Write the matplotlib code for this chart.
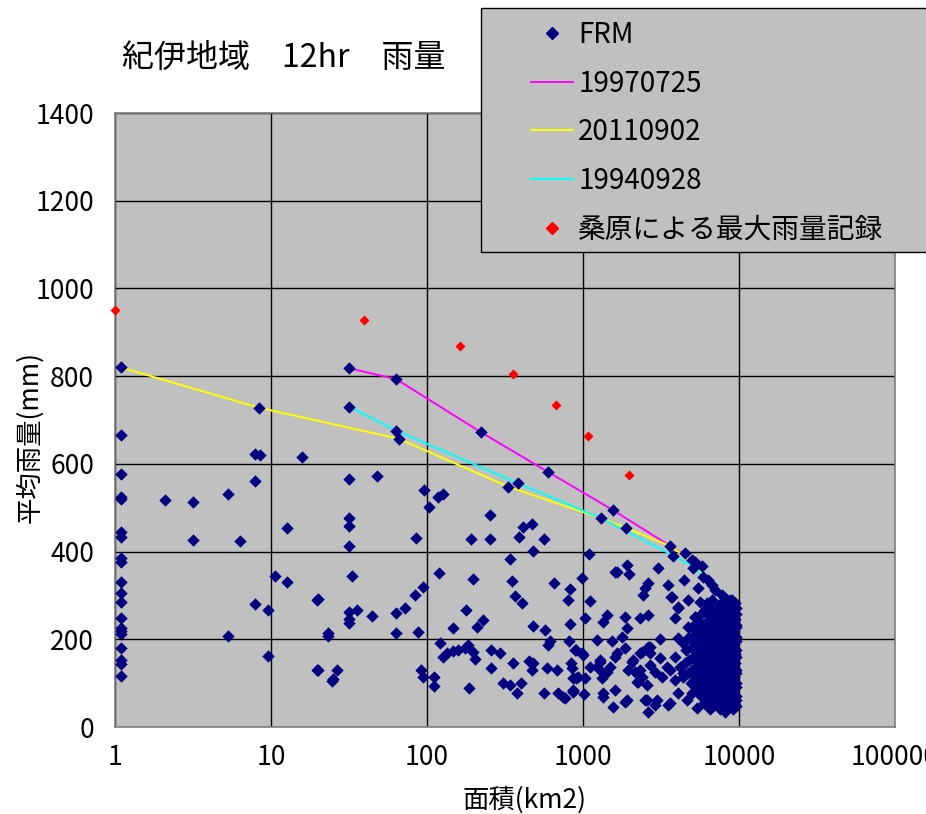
import matplotlib
matplotlib.use("Agg")
import matplotlib.pyplot as plt
from matplotlib.lines import Line2D
from matplotlib.patches import Rectangle

plt.rcParams['font.family'] = ['Noto Sans CJK JP', 'DejaVu Sans']

# ---- data -------------------------------------------------------------
title = "紀伊地域　12hr　雨量"
x_label = "面積(km2)"
y_label = "平均雨量(mm)"
x_ticks = [1, 10, 100, 1000, 10000, 100000]
x_tick_labels = ["1", "10", "100", "1000", "10000", "100000"]
y_ticks = [0, 200, 400, 600, 800, 1000, 1200, 1400]

# FRM results (area km2, mean rainfall mm), grouped by area range
frm_small = [
    (1.09, 820), (1.09, 666), (1.09, 577), (1.09, 524), (1.09, 520), (1.09, 445),
    (1.09, 434), (1.09, 385), (1.09, 377), (1.09, 330), (1.09, 305), (1.09, 286),
    (1.09, 248), (1.09, 225), (1.09, 218), (1.09, 212), (1.09, 179), (1.09, 153),
    (1.09, 144), (1.09, 116),
    (8.4, 728), (7.9, 622), (8.5, 620), (15.9, 615), (7.9, 560), (2.08, 518),
    (3.18, 514), (5.28, 532), (3.18, 427), (6.33, 425), (12.7, 453), (10.6, 344),
    (12.7, 330), (19.6, 290), (7.9, 280), (9.5, 267), (5.3, 207), (9.5, 162),
    (19.6, 131), (20.1, 291), (23.3, 214), (23.3, 207), (20.1, 131), (26.4, 131),
    (24.5, 105), (25, 109),
]
frm_mid = [
    (31.8, 818), (63.6, 793), (31.8, 730), (63.6, 676), (66.2, 657), (222, 672),
    (600, 581), (332, 548), (381, 556), (31.8, 565), (47.8, 572), (96.1, 540),
    (103.5, 502), (118, 525), (127, 531), (253, 483), (31.8, 476), (31.8, 458),
    (31.8, 413), (85.4, 430), (191, 429), (253, 428), (414, 455), (469, 464),
    (389, 434), (565, 428), (476, 402), (340, 383), (32.9, 344), (119, 352),
    (198, 337), (351, 334), (655, 328), (986, 339), (94.3, 320), (83.8, 300),
    (72.3, 272), (63.3, 260), (31.8, 262), (35.4, 267), (31.8, 246), (31.8, 236),
    (44.4, 253), (179, 267), (230, 244), (208, 229), (367, 299), (405, 283),
    (480, 230), (571, 221), (826, 314), (805, 290), (830, 234), (63.6, 214),
    (88, 216), (147, 225), (91, 130), (94.7, 113), (111, 115), (111, 94),
    (121, 192), (127, 160), (134, 168), (147, 174), (159, 176), (175, 179),
    (184, 187), (198, 172), (203, 155), (187, 90), (256, 176), (294, 168),
    (256, 134), (354, 145), (308, 101), (340, 96), (399, 100), (379, 77),
    (453, 151), (480, 145), (469, 130), (591, 134), (678, 130), (600, 187),
    (614, 195), (562, 78), (695, 78), (767, 67), (860, 83), (817, 195),
    (902, 176), (981, 168), (836, 145), (847, 134), (902, 111), (930, 115),
    (866, 80), (889, 176), (866, 112), (866, 84), (744, 68),
]
frm_large = [
    (1097, 394), (1109, 287), (1030, 249), (1005, 164), (1030, 111), (1018, 75),
    (1550, 495), (1304, 476), (1878, 454), (3610, 413), (3793, 391), (4505, 397),
    (1611, 354), (1906, 369), (1644, 354), (1982, 350), (3040, 362), (4440, 335),
    (2623, 328), (2497, 316), (2436, 301), (3524, 324), (3664, 297), (1419, 255),
    (1349, 240), (1858, 251), (1906, 225), (2318, 248), (2623, 255), (4083, 271),
    (3890, 248), (1224, 198), (1527, 195), (1771, 206), (1858, 179), (3118, 200),
    (2318, 168), (2623, 183), (4083, 202), (4395, 191), (1285, 153), (1224, 137),
    (1349, 122), (1490, 137), (1603, 160), (2102, 153), (2318, 130), (1951, 130),
    (2262, 103), (2560, 96), (2687, 168), (3118, 157), (3441, 137), (3890, 160),
    (4180, 137), (4395, 122), (1349, 77), (1556, 46), (1858, 58), (2560, 62),
    (2896, 50), (2623, 35), (3610, 54), (4083, 77), (4620, 62), (1652, 169),
    (2389, 171), (2687, 182), (2061, 148), (1285, 148), (1109, 137), (1425, 125),
    (1324, 112), (2154, 125), (2389, 114), (2219, 103), (2687, 141), (2896, 125),
    (3209, 114), (3610, 130), (3890, 107), (1349, 68), (1603, 84), (1914, 62),
    (2497, 62), (2980, 62), (3524, 50), (3720, 296), (4083, 274),
]
frm_core = [
    (4976, 381), (5224, 377), (5095, 362), (5766, 366), (5875, 342), (6330, 335),
    (6714, 324), (7017, 312), (7780, 301), (8130, 294), (8750, 290), (9430, 283),
    (5485, 317), (4731, 290), (5623, 285), (6240, 283), (6714, 290), (5224, 251),
    (6053, 267), (4731, 229), (5354, 214), (4976, 179), (4976, 122), (5354, 43),
    (8130, 35),
    (7500, 280), (8200, 280), (8800, 278), (9300, 276), (9600, 272),
    (6000, 265), (7000, 265), (7800, 265), (8500, 262), (9200, 264), (9600, 258),
    (5200, 250), (6500, 250), (7300, 250), (8000, 248), (8700, 250), (9400, 246),
    (6000, 235), (6800, 235), (7600, 235), (8300, 235), (9000, 235), (9600, 232),
    (5500, 220), (6300, 220), (7100, 220), (7900, 220), (8600, 220), (9300, 220),
    (4800, 205), (5800, 205), (6700, 205), (7500, 205), (8200, 205), (8900, 205),
    (9600, 205), (5300, 190), (6200, 190), (7000, 190), (7800, 190), (8500, 190),
    (9200, 190), (4600, 175), (5600, 175), (6500, 175), (7300, 175), (8100, 175),
    (8800, 175), (9500, 175), (5100, 160), (6000, 160), (6900, 160), (7700, 160),
    (8400, 160), (9100, 160), (9600, 160), (4500, 145), (5500, 145), (6400, 145),
    (7200, 145), (8000, 145), (8700, 145), (9400, 145), (5000, 130), (5900, 130),
    (6800, 130), (7600, 130), (8300, 130), (9000, 130), (9600, 130), (4400, 115),
    (5400, 115), (6300, 115), (7100, 115), (7900, 115), (8600, 115), (9300, 115),
    (4900, 100), (5800, 100), (6700, 100), (7500, 100), (8200, 100), (8900, 100),
    (9600, 100), (5300, 85), (6200, 85), (7000, 85), (7800, 85), (8500, 85),
    (9200, 85), (5700, 70), (6600, 70), (7400, 70), (8100, 70), (8800, 70),
    (9500, 70), (6000, 55), (7000, 55), (7800, 55), (8600, 55), (9300, 55),
    (6500, 40), (7600, 40), (8400, 40), (9100, 40),
    (8400, 290), (9000, 290), (6600, 272), (7300, 272), (8100, 272),
    (5700, 257), (6900, 257), (7700, 257), (8400, 257), (9000, 257),
    (5500, 242), (6400, 242), (7200, 242), (8000, 242), (8700, 242), (9300, 242),
    (5000, 227), (5900, 227), (6700, 227), (7500, 227), (8200, 227), (8900, 227),
    (9500, 227), (5300, 212), (6100, 212), (6900, 212), (7800, 212), (8500, 212),
    (9200, 212), (5100, 197), (6000, 197), (6800, 197), (7600, 197), (8300, 197),
    (9000, 197), (9500, 197), (5000, 182), (5900, 182), (6800, 182), (7600, 182),
    (8400, 182), (9100, 182), (5400, 167), (6300, 167), (7100, 167), (7900, 167),
    (8700, 167), (9400, 167), (4800, 152), (5800, 152), (6700, 152), (7500, 152),
    (8300, 152), (9000, 152), (5300, 137), (6200, 137), (7000, 137), (7800, 137),
    (8500, 137), (9200, 137), (4700, 122), (5700, 122), (6600, 122), (7400, 122),
    (8200, 122), (8900, 122), (9500, 122), (5200, 107), (6100, 107), (7000, 107),
    (7800, 107), (8500, 107), (9200, 107), (5500, 92), (6500, 92), (7300, 92),
    (8100, 92), (8800, 92), (9500, 92), (5000, 77), (6000, 77), (6900, 77),
    (7700, 77), (8400, 77), (9100, 77), (6300, 62), (7200, 62), (8000, 62),
    (8900, 62), (9500, 62), (6800, 47), (8000, 47), (8800, 47), (9500, 47),
]

# Storm events traced across area
ev_19970725_area = [31.8, 63.6, 222, 600, 1550, 3610, 5200, 7500]
ev_19970725_rain = [818, 793, 672, 581, 495, 413, 377, 306]
ev_20110902_area = [1.09, 8.4, 66.2, 332, 1304, 1878, 3610, 5000, 7300]
ev_20110902_rain = [820, 728, 657, 548, 476, 454, 413, 378, 306]
ev_19940928_area = [31.8, 63.6, 381, 1304, 3793, 5300, 7300]
ev_19940928_rain = [730, 676, 556, 476, 391, 362, 300]

# Maximum recorded rainfall (Kuwabara)
kuwabara_area = [1, 39.5, 163, 356, 671, 1077, 1972]
kuwabara_rain = [951, 928, 869, 805, 734, 663, 575]

# ---- figure -------------------------------------------------------------
W, H = 926, 814
fig = plt.figure(figsize=(W / 100, H / 100), dpi=100)
fig.patch.set_facecolor("white")

L, R, T, B = 115, 895, 113, 727
ax = fig.add_axes([L / W, 1 - B / H, (R - L) / W, (B - T) / H])
ax.set_facecolor("#C0C0C0")
ax.set_xscale("log")
ax.set_xlim(1, 100000)
ax.set_ylim(0, 1400)
ax.set_xticks(x_ticks)
ax.set_xticklabels(x_tick_labels)
ax.xaxis.set_minor_locator(matplotlib.ticker.NullLocator())
ax.set_yticks(y_ticks)
ax.tick_params(axis="both", length=0, labelsize=19, colors="black")
ax.tick_params(axis="y", pad=15)
ax.tick_params(axis="x", pad=12)
ax.grid(True, which="major", color="black", linewidth=1.0)
ax.set_axisbelow(True)
for s in ax.spines.values():
    s.set_color("#808080")
    s.set_linewidth(1.2)

frm_all = frm_small + frm_mid + frm_large + frm_core
frm_x = [p[0] for p in frm_all]
frm_y = [p[1] for p in frm_all]

ax.plot(ev_19970725_area, ev_19970725_rain, color="#FF00FF", lw=1.4, zorder=2)
ax.plot(ev_20110902_area, ev_20110902_rain, color="#FFFF00", lw=1.4, zorder=2)
ax.plot(ev_19940928_area, ev_19940928_rain, color="#00FFFF", lw=1.4, zorder=2)
ax.scatter(frm_x, frm_y, marker="D", s=40, color="#000080", linewidths=0, zorder=3)
ax.scatter(kuwabara_area, kuwabara_rain, marker="D", s=26, color="#FF0000",
           linewidths=0, zorder=4, clip_on=False)

ax.set_xlabel(x_label, fontsize=19)
ax.xaxis.set_label_coords((525 - L) / (R - L), -(800 - B) / (B - T))
ax.xaxis.label.set_va("center")
ax.set_ylabel(y_label, fontsize=19)
ax.yaxis.set_label_coords(-(L - 30) / (R - L), (B - 437) / (B - T))
ax.yaxis.label.set_va("center")

fig.text(122 / W, 1 - 58 / H, title, fontsize=23, ha="left", va="center")

# legend box
fig.patches.append(Rectangle((481 / W, 1 - 252 / H), 460 / W, 244 / H,
                             transform=fig.transFigure, facecolor="#C0C0C0",
                             edgecolor="black", linewidth=1.0, zorder=3))
handles = [
    Line2D([], [], marker="D", ls="none", color="#000080", ms=6),
    Line2D([], [], color="#FF00FF", lw=1.4),
    Line2D([], [], color="#FFFF00", lw=1.4),
    Line2D([], [], color="#00FFFF", lw=1.4),
    Line2D([], [], marker="D", ls="none", color="#FF0000", ms=6),
]
labels = ["FRM", "19970725", "20110902", "19940928", "桑原による最大雨量記録"]
leg = fig.legend(handles, labels, loc="upper left",
                 bbox_to_anchor=(531 / W, 1 - 20 / H), bbox_transform=fig.transFigure,
                 frameon=False, fontsize=20, handlelength=1.5, handletextpad=0.2,
                 labelspacing=0.67, borderpad=0, borderaxespad=0)
leg.set_zorder(5)

fig.savefig("out.png", dpi=100)
